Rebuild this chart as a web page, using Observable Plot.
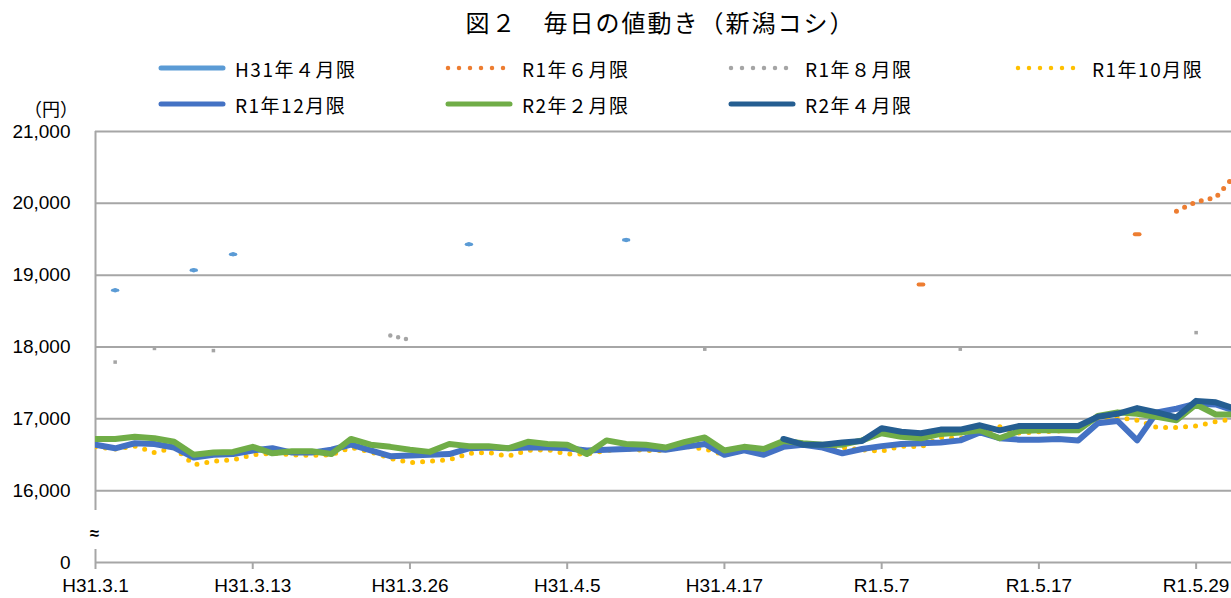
<!DOCTYPE html>
<html><head><meta charset="utf-8">
<script src="https://cdn.jsdelivr.net/npm/d3@7"></script>
<script src="https://cdn.jsdelivr.net/npm/@observablehq/plot@0.6"></script>
<style>
body{margin:0;background:#fff;width:1231px;height:598px;overflow:hidden;position:relative;font-family:"Noto Sans CJK JP","Noto Sans",sans-serif;color:#000;}
#title{position:absolute;top:7px;left:45px;width:1231px;text-align:center;font-size:24px;line-height:30px;letter-spacing:2px;}
.leg{position:absolute;display:flex;align-items:center;height:24px;font-size:19px;letter-spacing:1.5px;white-space:nowrap;}
.leg svg{margin-right:8px;}
#unit{position:absolute;left:24px;top:96px;font-size:18px;line-height:24px;}
#chart{position:absolute;left:0;top:120px;}
</style></head><body>
<div id="title">図２　毎日の値動き（新潟コシ）</div>
<div id="legend"></div>
<div id="unit">（円）</div>
<div id="chart"></div>
<script>
// ---- data ----
const tradingDays = ["H31.3.1","H31.3.4","H31.3.5","H31.3.6","H31.3.7","H31.3.8","H31.3.11","H31.3.12","H31.3.13","H31.3.14","H31.3.15","H31.3.18","H31.3.19","H31.3.20","H31.3.22","H31.3.25","H31.3.26","H31.3.27","H31.3.28","H31.3.29","H31.4.1","H31.4.2","H31.4.3","H31.4.4","H31.4.5","H31.4.8","H31.4.9","H31.4.10","H31.4.11","H31.4.12","H31.4.15","H31.4.16","H31.4.17","H31.4.18","H31.4.19","H31.4.22","H31.4.23","H31.4.24","H31.4.25","H31.4.26","R1.5.7","R1.5.8","R1.5.9","R1.5.10","R1.5.13","R1.5.14","R1.5.15","R1.5.16","R1.5.17","R1.5.20","R1.5.21","R1.5.22","R1.5.23","R1.5.24","R1.5.27","R1.5.28","R1.5.29","R1.5.30","R1.5.31"];
const xTickLabels = ["H31.3.1","H31.3.13","H31.3.26","H31.4.5","H31.4.17","R1.5.7","R1.5.17","R1.5.29"];
const yTickValues = [15000,16000,17000,18000,19000,20000,21000]; // 15000 stands for the broken-axis "0"
const yTickLabels = ["0","16,000","17,000","18,000","19,000","20,000","21,000"];
const seriesNames = ["H31年４月限","R1年６月限","R1年８月限","R1年10月限","R1年12月限","R2年２月限","R2年４月限"];

// sparse contracts: trading day + settlement value
const h31AprDays = ["H31.3.4","H31.3.8","H31.3.12","H31.3.29","H31.4.10"];
const h31AprValues = [18790,19070,19290,19430,19490];
const r1JunDays = ["R1.5.9","R1.5.24","R1.5.28","R1.5.29","R1.5.30","R1.5.31"];
const r1JunValues = [18870,19570,19890,20020,20080,20400];
const r1AugDays = ["H31.3.4","H31.3.6","H31.3.11","H31.3.25","H31.3.26","H31.4.16","R1.5.13","R1.5.29"];
const r1AugValues = [17790,17980,17950,18160,18100,17970,17970,18200];
// full contracts, aligned with tradingDays
const r1OctValues = [16610,16580,16620,16530,16600,16360,16410,16430,16500,16520,16500,16490,16500,16600,16540,16450,16390,16410,16430,16520,16530,16480,16560,16570,16510,16510,16560,16580,16560,16560,16620,16580,16500,16560,16540,16680,16640,16600,16600,16570,16550,16620,16610,16740,16730,16790,16890,16800,16820,16830,16890,16980,17020,16980,16880,16880,16900,16960,17000];
const r1DecValues = [16640,16590,16660,16650,16600,16460,16500,16510,16560,16590,16530,16530,16570,16640,16560,16480,16490,16500,16510,16590,16600,16590,16600,16600,16590,16560,16570,16580,16590,16570,16610,16650,16500,16560,16500,16610,16640,16600,16520,16580,16620,16650,16660,16670,16700,16810,16730,16710,16710,16720,16700,16940,16970,16700,17090,17140,17210,17200,17110];
const r2FebValues = [16720,16720,16750,16730,16680,16500,16530,16540,16610,16520,16550,16550,16510,16720,16640,16610,16570,16540,16650,16620,16620,16590,16680,16650,16640,16510,16700,16650,16640,16600,16680,16740,16560,16610,16580,16690,16660,16640,16640,16700,16800,16750,16730,16790,16810,16840,16730,16830,16840,16840,16840,17040,17090,17070,17030,16980,17200,17060,17060];
const r2AprDays = ["H31.4.22","H31.4.23","H31.4.24","H31.4.25","H31.4.26","R1.5.7","R1.5.8","R1.5.9","R1.5.10","R1.5.13","R1.5.14","R1.5.15","R1.5.16","R1.5.17","R1.5.20","R1.5.21","R1.5.22","R1.5.23","R1.5.24","R1.5.27","R1.5.28","R1.5.29","R1.5.30","R1.5.31"];
const r2AprValues = [16720,16640,16640,16670,16690,16870,16820,16800,16850,16850,16910,16840,16900,16900,16900,16900,17030,17070,17150,17090,17020,17250,17230,17140];

// ---- styles ----
const styles = [
  {color:"#5B9BD5", width:4.5, dash:null, iso:0.13, isoW:3.2, cap:"round"},
  {color:"#ED7D31", width:5, dash:"0 9", iso:0.12, isoW:4, cap:"round"},
  {color:"#A5A5A5", width:4.5, dash:"0 8", iso:0.09, isoW:3.5, cap:"butt"},
  {color:"#FFC000", width:5, dash:"0 10", iso:0.1, isoW:4, cap:"round"},
  {color:"#4472C4", width:6, dash:null, iso:0.1, isoW:4, cap:"round"},
  {color:"#70AD47", width:6, dash:null, iso:0.1, isoW:4, cap:"round"},
  {color:"#255E91", width:6, dash:null, iso:0.1, isoW:4, cap:"round"}
];

function fromPairs(days, values) {
  const m = new Map(days.map((d, k) => [d, values[k]]));
  return tradingDays.map(d => m.has(d) ? m.get(d) : null);
}
const seriesValues = [
  fromPairs(h31AprDays, h31AprValues),
  fromPairs(r1JunDays, r1JunValues),
  fromPairs(r1AugDays, r1AugValues),
  r1OctValues, r1DecValues, r2FebValues,
  fromPairs(r2AprDays, r2AprValues)
];
const seriesRows = seriesValues.map(vals => tradingDays.map((d, i) => ({i, day: d, v: vals[i] == null ? NaN : vals[i]})));

// ---- legend ----
const legCols = [157, 444, 727, 1014];
const legRows = [56, 92];
const legend = document.getElementById("legend");
seriesNames.forEach((name, k) => {
  const st = styles[k];
  const div = document.createElement("div");
  div.className = "leg";
  div.style.left = legCols[k % 4] + "px";
  div.style.top = legRows[Math.floor(k / 4)] + "px";
  const w = 70;
  div.innerHTML = `<svg width="${w}" height="12"><line x1="4" x2="${w-4}" y1="6" y2="6" stroke="${st.color}" stroke-width="${st.dash ? 4.5 : 5}" stroke-linecap="round" ${st.dash ? `stroke-dasharray="0 11"` : ""}/></svg><span>${name}</span>`;
  legend.appendChild(div);
});

// ---- chart ----
const gridColor = "#a6a6a6";
const breakLow = 15181, breakHigh = 15724, breakMid = 15404;
const xTicks = xTickLabels.map(l => tradingDays.indexOf(l));

const marks = [
  Plot.ruleY(yTickValues.slice(1), {stroke: gridColor, strokeWidth: 2}),
  Plot.ruleY([yTickValues[0]], {stroke: gridColor, strokeWidth: 2}),
  Plot.ruleX([0], {y1: yTickValues[0], y2: breakLow, stroke: gridColor, strokeWidth: 2}),
  Plot.ruleX([0], {y1: breakHigh, y2: yTickValues[yTickValues.length-1], stroke: gridColor, strokeWidth: 2}),
  Plot.text(["≈"], {x: 0, y: breakMid, text: d => d, fontSize: 17, fontWeight: "bold", fill: "#000", dx: -1}),
  Plot.axisY({ticks: yTickValues, tickFormat: v => yTickLabels[yTickValues.indexOf(v)], label: null, tickSize: 0, tickPadding: 25, fontSize: 19, fill: "#000", fontFamily: "Liberation Sans"}),
  Plot.axisX({ticks: xTicks, tickFormat: i => tradingDays[i], label: null, tickSize: 7, tickPadding: 9, fontSize: 19, stroke: gridColor, strokeWidth: 2, fill: "#000", fontFamily: "Liberation Sans"})
];
seriesRows.forEach((rows, k) => {
  const st = styles[k];
  marks.push(Plot.line(rows, {x: "i", y: "v", stroke: st.color, strokeWidth: st.width, strokeDasharray: st.dash || undefined, strokeLinecap: "round", strokeLinejoin: "round", clip: true}));
  const iso = rows.filter((r, idx) => !isNaN(r.v) && (idx === 0 || isNaN(rows[idx-1].v)) && (idx === rows.length-1 || isNaN(rows[idx+1].v)));
  if (iso.length) {
    marks.push(Plot.link(iso, {x1: r => r.i - st.iso, x2: r => r.i + st.iso, y1: "v", y2: "v", stroke: st.color, strokeWidth: st.isoW, strokeLinecap: st.cap, clip: true}));
  }
});

const chart = Plot.plot({
  width: 1231, height: 478,
  marginLeft: 95, marginRight: 0, marginTop: 11, marginBottom: 36,
  x: {type: "linear", domain: [0, 57.8], axis: null},
  y: {domain: [15000, 21000], axis: null},
  style: {fontFamily: "Liberation Sans", fontSize: "19px", background: "transparent", overflow: "visible"},
  marks
});
document.getElementById("chart").appendChild(chart);
</script>
</body></html>
